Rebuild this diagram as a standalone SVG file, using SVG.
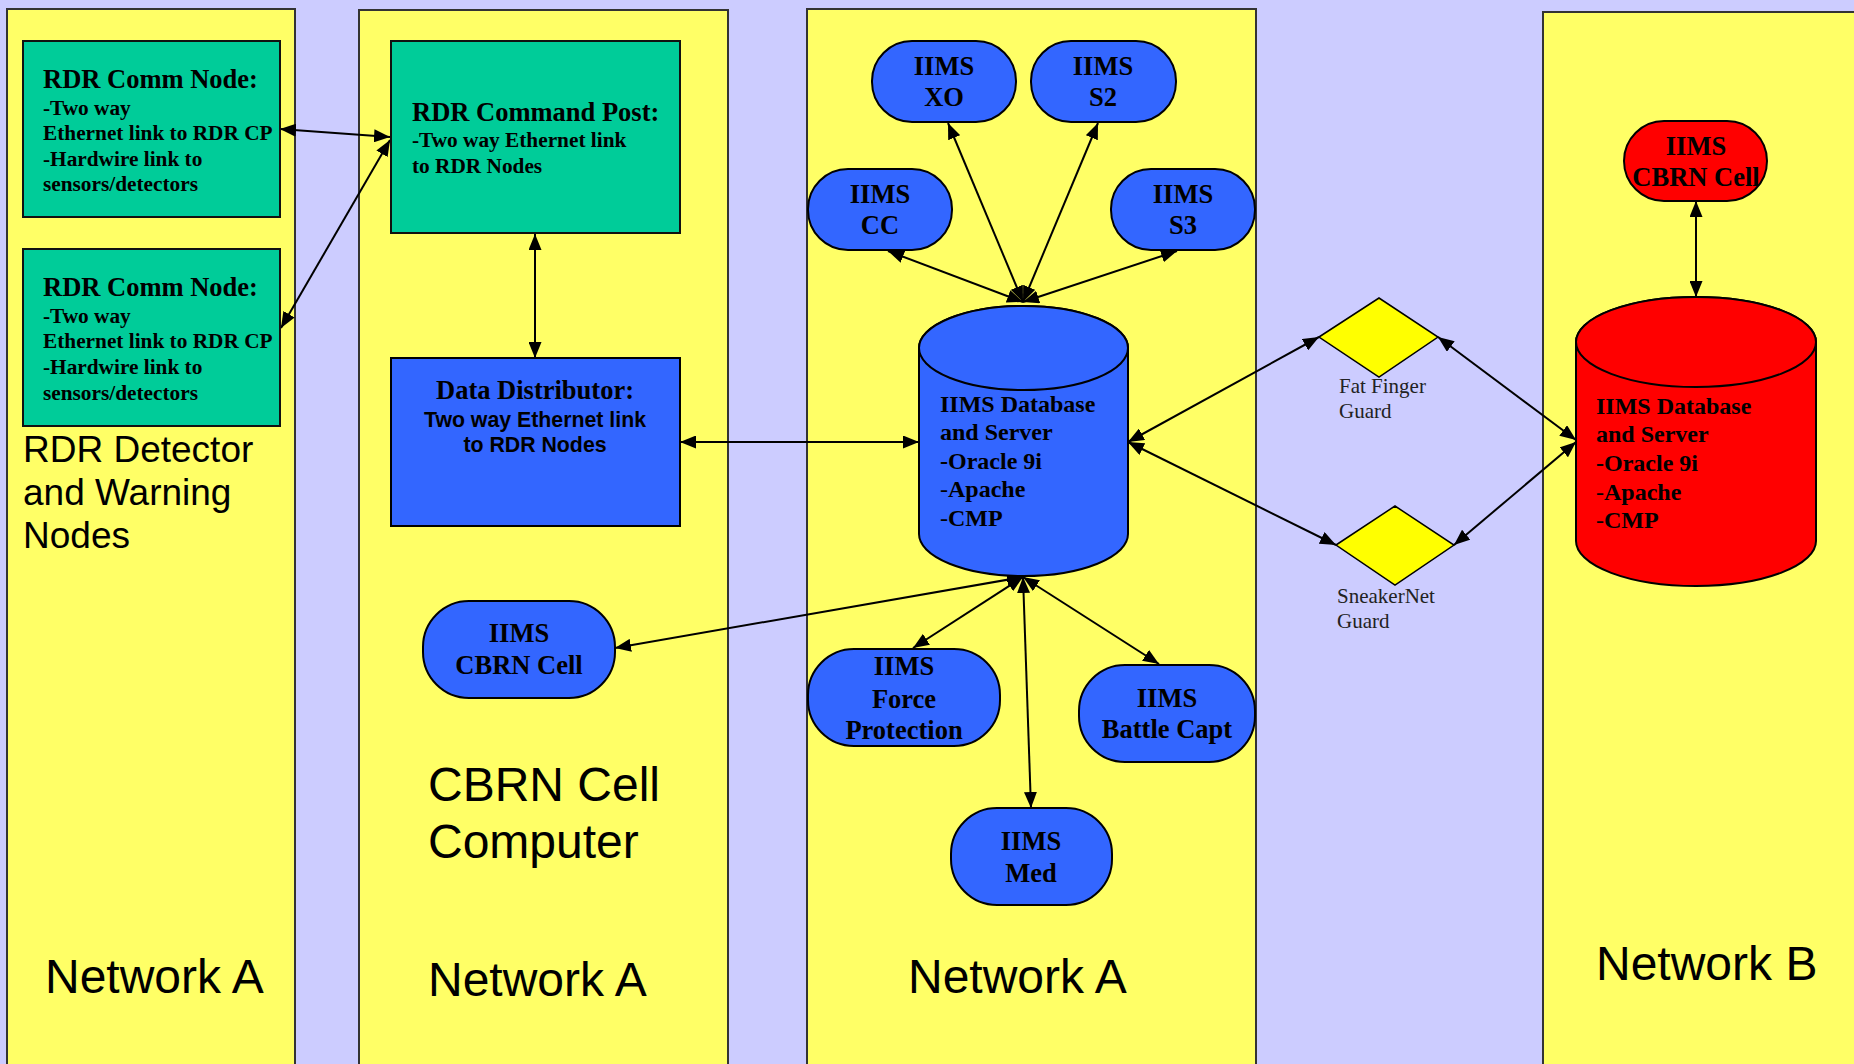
<svg xmlns="http://www.w3.org/2000/svg" width="1854" height="1064" viewBox="0 0 1854 1064">
<defs>
<marker id="ah" viewBox="0 0 16 13" refX="16" refY="6.5" markerWidth="16" markerHeight="13" markerUnits="userSpaceOnUse" orient="auto-start-reverse">
<path d="M0,0 L16,6.5 L0,13 z" fill="#000"/>
</marker>
<style>
.panel{fill:#FFFF66;stroke:#333;stroke-width:2}
.green{fill:#00CC99;stroke:#111;stroke-width:2}
.blue{fill:#3366FF;stroke:#000;stroke-width:2}
.red{fill:#FF0000;stroke:#000;stroke-width:2}
.dia{fill:#FFFF00;stroke:#000;stroke-width:1.5}
.big{font-family:"Liberation Sans",Arial,sans-serif;font-size:48px;fill:#000}
.mid{font-family:"Liberation Sans",Arial,sans-serif;font-size:37px;fill:#000}
.tt{font-family:"Liberation Serif","Times New Roman",serif;font-weight:bold;font-size:26.5px;fill:#000}
.ts{font-family:"Liberation Serif","Times New Roman",serif;font-weight:bold;font-size:21.3px;fill:#000}
.tdb{font-family:"Liberation Serif","Times New Roman",serif;font-weight:bold;font-size:24px;fill:#000}
.ab{font-family:"Liberation Sans",Arial,sans-serif;font-weight:bold;font-size:21.3px;fill:#000}
.guard{font-family:"Liberation Serif","Times New Roman",serif;font-size:21px;fill:#222}
.thin{font-weight:normal}
.c{text-anchor:middle}
.conn line{stroke:#000;stroke-width:2;marker-start:url(#ah);marker-end:url(#ah)}
</style>
</defs>
<rect x="0" y="0" width="1854" height="1064" fill="#CCCCFF"/>

<g id="panel-rdr">
<rect class="panel" x="7" y="9" width="288" height="1070"/>
<text class="mid" x="23" y="462">RDR Detector</text>
<text class="mid" x="23" y="505">and Warning</text>
<text class="mid" x="23" y="548">Nodes</text>
<text class="big" x="45" y="993">Network A</text>
</g>
<g id="panel-cbrn">
<rect class="panel" x="359" y="10" width="369" height="1070"/>
<text class="big" x="428" y="801">CBRN Cell</text>
<text class="big" x="428" y="858">Computer</text>
<text class="big" x="428" y="996">Network A</text>
</g>
<g id="panel-iims">
<rect class="panel" x="807" y="9" width="449" height="1070"/>
<text class="big" x="908" y="993">Network A</text>
</g>
<g id="panel-b">
<rect class="panel" x="1543" y="12" width="330" height="1070"/>
<text class="big" x="1596" y="980">Network B</text>
</g>

<g id="conns" class="conn">
<line x1="280" y1="129" x2="390" y2="137"/>
<line x1="281" y1="328" x2="390" y2="140"/>
<line x1="535" y1="234" x2="535" y2="358"/>
<line x1="680" y1="442" x2="919" y2="442"/>
<line x1="1023" y1="302" x2="948" y2="123"/>
<line x1="1023" y1="302" x2="1098" y2="123"/>
<line x1="1023" y1="302" x2="888" y2="251"/>
<line x1="1023" y1="302" x2="1177" y2="251"/>
<line x1="1128" y1="442" x2="1319" y2="337"/>
<line x1="1128" y1="442" x2="1336" y2="545"/>
<line x1="1438" y1="337" x2="1576" y2="440"/>
<line x1="1454" y1="545" x2="1576" y2="442"/>
<line x1="1696" y1="201" x2="1696" y2="297"/>
<line x1="1023" y1="577" x2="615" y2="648"/>
<line x1="1023" y1="577" x2="913" y2="648"/>
<line x1="1023" y1="577" x2="1159" y2="664"/>
<line x1="1023" y1="577" x2="1031" y2="808"/>
</g>

<g id="comm-node-1">
<rect class="green" x="23" y="41" width="257" height="176"/>
<text class="tt" x="43" y="88">RDR Comm Node:</text>
<text class="ts" x="43" y="115">-Two way</text>
<text class="ts" x="43" y="140">Ethernet link to RDR CP</text>
<text class="ts" x="43" y="166">-Hardwire link to</text>
<text class="ts" x="43" y="191">sensors/detectors</text>
</g>
<g id="comm-node-2">
<rect class="green" x="23" y="249" width="257" height="177"/>
<text class="tt" x="43" y="296">RDR Comm Node:</text>
<text class="ts" x="43" y="323">-Two way</text>
<text class="ts" x="43" y="348">Ethernet link to RDR CP</text>
<text class="ts" x="43" y="374">-Hardwire link to</text>
<text class="ts" x="43" y="400">sensors/detectors</text>
</g>
<g id="rdr-cp">
<rect class="green" x="391" y="41" width="289" height="192"/>
<text class="tt" x="412" y="121">RDR Command Post:</text>
<text class="ts" x="412" y="147">-Two way Ethernet link</text>
<text class="ts" x="412" y="173">to RDR Nodes</text>
</g>
<g id="data-dist">
<rect class="blue" x="391" y="358" width="289" height="168"/>
<text class="tt c" x="535" y="399">Data Distributor:</text>
<text class="ab c" x="535" y="427">Two way Ethernet link</text>
<text class="ab c" x="535" y="452">to RDR Nodes</text>
</g>
<g id="cbrn-pill">
<rect class="blue" x="423" y="601" width="192" height="97" rx="46" ry="46"/>
<text class="tt c" x="519" y="642">IIMS</text>
<text class="tt c" x="519" y="674">CBRN Cell</text>
</g>

<g id="iims-xo">
<rect class="blue" x="872" y="41" width="144" height="81" rx="40" ry="40"/>
<text class="tt c" x="944" y="75">IIMS</text>
<text class="tt c" x="944" y="106">XO</text>
</g>
<g id="iims-s2">
<rect class="blue" x="1031" y="41" width="145" height="81" rx="40" ry="40"/>
<text class="tt c" x="1103" y="75">IIMS</text>
<text class="tt c" x="1103" y="106">S2</text>
</g>
<g id="iims-cc">
<rect class="blue" x="808" y="169" width="144" height="81" rx="40" ry="40"/>
<text class="tt c" x="880" y="203">IIMS</text>
<text class="tt c" x="880" y="234">CC</text>
</g>
<g id="iims-s3">
<rect class="blue" x="1111" y="169" width="144" height="81" rx="40" ry="40"/>
<text class="tt c" x="1183" y="203">IIMS</text>
<text class="tt c" x="1183" y="234">S3</text>
</g>
<g id="iims-db">
<path class="blue" d="M919,348 A104.5,42 0 0 1 1128,348 L1128,534 A104.5,42 0 0 1 919,534 Z"/>
<ellipse class="blue" cx="1023.5" cy="348" rx="104.5" ry="42"/>
<text class="tdb" x="940" y="412">IIMS Database</text>
<text class="tdb" x="940" y="440">and Server</text>
<text class="tdb" x="940" y="469">-Oracle 9i</text>
<text class="tdb" x="940" y="497"><tspan class="thin">-</tspan>Apache</text>
<text class="tdb" x="940" y="526"><tspan class="thin">-</tspan>CMP</text>
</g>
<g id="iims-fp">
<rect class="blue" x="808" y="649" width="192" height="97" rx="46" ry="46"/>
<text class="tt c" x="904" y="675">IIMS</text>
<text class="tt c" x="904" y="708">Force</text>
<text class="tt c" x="904" y="739">Protection</text>
</g>
<g id="iims-bc">
<rect class="blue" x="1079" y="665" width="176" height="97" rx="46" ry="46"/>
<text class="tt c" x="1167" y="707">IIMS</text>
<text class="tt c" x="1167" y="738">Battle Capt</text>
</g>
<g id="iims-med">
<rect class="blue" x="951" y="808" width="161" height="97" rx="46" ry="46"/>
<text class="tt c" x="1031" y="850">IIMS</text>
<text class="tt c" x="1031" y="882">Med</text>
</g>

<g id="fat-finger">
<polygon class="dia" points="1319,337 1379,298 1438,337 1379,377"/>
<text class="guard" x="1339" y="393">Fat Finger</text>
<text class="guard" x="1339" y="418">Guard</text>
</g>
<g id="sneakernet">
<polygon class="dia" points="1336,545 1395,506 1454,545 1395,585"/>
<text class="guard" x="1337" y="603">SneakerNet</text>
<text class="guard" x="1337" y="628">Guard</text>
</g>

<g id="red-pill">
<rect class="red" x="1624" y="121" width="143" height="80" rx="40" ry="40"/>
<text class="tt c" x="1696" y="155">IIMS</text>
<text class="tt c" x="1696" y="186">CBRN Cell</text>
</g>
<g id="red-db">
<path class="red" d="M1576,342 A120,45 0 0 1 1816,342 L1816,541 A120,45 0 0 1 1576,541 Z"/>
<ellipse class="red" cx="1696" cy="342" rx="120" ry="45"/>
<text class="tdb" x="1596" y="414">IIMS Database</text>
<text class="tdb" x="1596" y="442">and Server</text>
<text class="tdb" x="1596" y="471">-Oracle 9i</text>
<text class="tdb" x="1596" y="500"><tspan class="thin">-</tspan>Apache</text>
<text class="tdb" x="1596" y="528"><tspan class="thin">-</tspan>CMP</text>
</g>
</svg>
